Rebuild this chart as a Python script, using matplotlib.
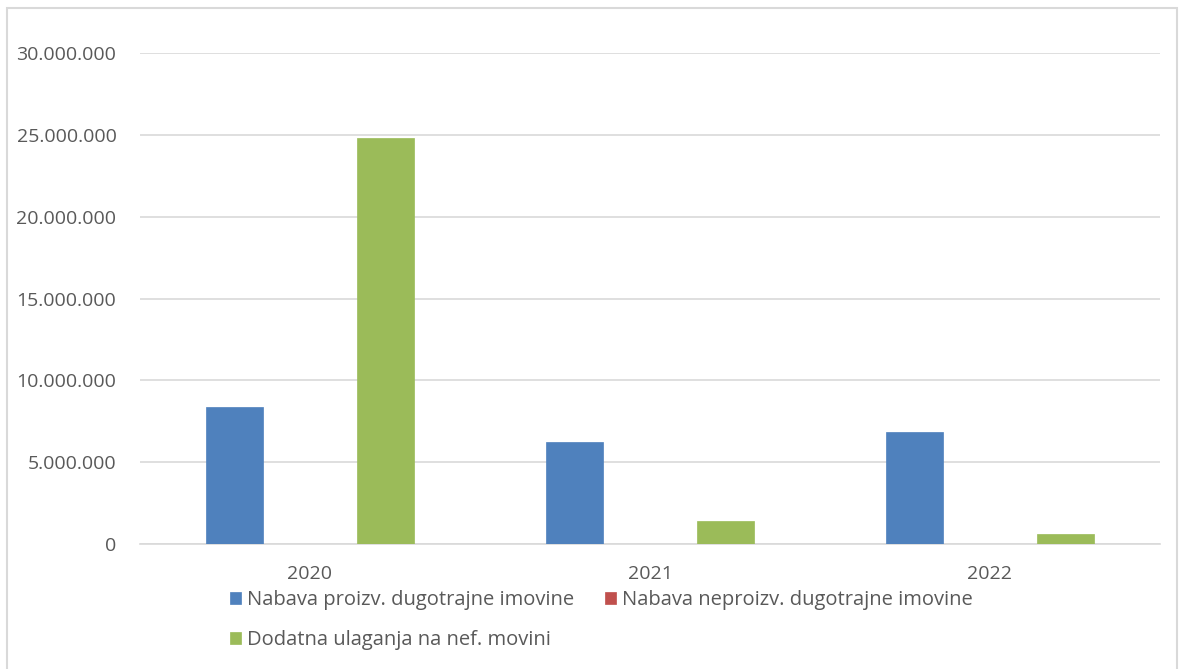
import numpy as np
import matplotlib.pyplot as plt
from matplotlib.patches import Rectangle
from matplotlib.ticker import FuncFormatter

# Data
years = ['2020', '2021', '2022']
nabava_proizv = [8350000, 6210000, 6820000]
nabava_neproizv = [0, 0, 0]
dodatna_ulaganja = [24800000, 1390000, 610000]

labels = ['Nabava proizv. dugotrajne imovine',
          'Nabava neproizv. dugotrajne imovine',
          'Dodatna ulaganja na nef. movini']
colors = ['#4f81bd', '#c0504d', '#9bbb59']

plt.rcParams['font.family'] = ['Open Sans', 'DejaVu Sans']
grey_text = '#595959'
grid_col = '#d9d9d9'

fig = plt.figure(figsize=(11.82, 6.69), dpi=100)
ax = fig.add_axes([140/1182, 125/669, 1020/1182, 491/669])

x = np.arange(len(years))
w = 0.17
off = 0.222
bars = []
for i, (vals, c) in enumerate(zip([nabava_proizv, nabava_neproizv, dodatna_ulaganja], colors)):
    b = ax.bar(x + (i - 1) * off, vals, width=w, color=c, edgecolor=c, linewidth=0.5, label=labels[i], zorder=3)
    bars.append(b)

ax.set_xlim(-0.5, 2.5)
ax.set_ylim(0, 30000000)
ax.set_yticks(np.arange(0, 30000001, 5000000))
ax.yaxis.set_major_formatter(FuncFormatter(lambda v, p: f'{int(v):,}'.replace(',', '.')))
ax.set_xticks(x)
ax.set_xticklabels(years)

ax.grid(axis='y', color=grid_col, linewidth=1.2, zorder=0)
for s in ['top', 'right', 'left']:
    ax.spines[s].set_visible(False)
ax.spines['bottom'].set_color(grid_col)
ax.spines['bottom'].set_linewidth(1.2)
ax.tick_params(axis='both', length=0, colors=grey_text, labelsize=14)
ax.tick_params(axis='y', pad=17)
ax.tick_params(axis='x', pad=15)

# legend: first and third in column one, second in column two
handles = [bars[0], bars[2], bars[1]]
leg_labels = [labels[0], labels[2], labels[1]]
leg = fig.legend(handles, leg_labels, ncol=2, loc='upper left',
                 bbox_to_anchor=(212/1182, 1 - 572/669), frameon=False,
                 fontsize=14.5, handlelength=0.55, handleheight=0.55,
                 handletextpad=0.3, columnspacing=1.5, labelspacing=1.0,
                 labelcolor=grey_text)

# outer chart border
fig.patches.append(Rectangle((7/1182, -0.01), 1170/1182, 1 - 8/669 + 0.01,
                             transform=fig.transFigure, fill=False,
                             edgecolor=grid_col, linewidth=1.5))

fig.savefig('out.png', dpi=100)
